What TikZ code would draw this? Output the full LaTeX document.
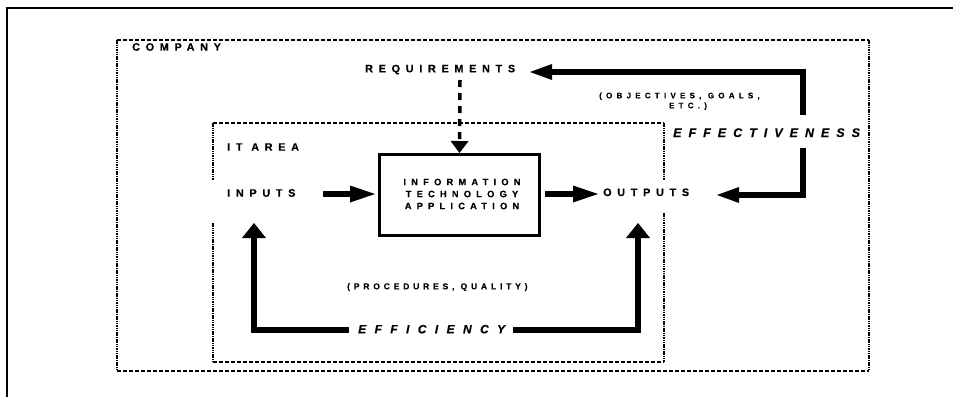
\documentclass[tikz,border=0pt]{standalone}
\usepackage{fontspec}
\setmainfont{Liberation Sans}
% letter-spaced bold families for the labels
\newfontfamily\lblA[LetterSpace=53,FakeBold=0.4]{Liberation Sans}
\newfontfamily\lblE[LetterSpace=56,FakeBold=0.4]{Liberation Sans}
\newfontfamily\lblB[LetterSpace=70,FakeBold=0.4]{Liberation Sans}
\newfontfamily\lblC[LetterSpace=45,FakeBold=0.3]{Liberation Sans}
\newfontfamily\lblF[LetterSpace=53,FakeBold=0.3]{Liberation Sans}
\newfontfamily\lblD[LetterSpace=56,FakeBold=0.3]{Liberation Sans}
\usetikzlibrary{arrows.meta}
\begin{document}
\begin{tikzpicture}[x=1pt,y=-1pt,
  lbl/.style={inner sep=0pt, font=\lblA\bfseries\fontsize{10.8}{13}\selectfont},
  effstyle/.style={inner sep=0pt, font=\lblE\bfseries\itshape\fontsize{12.5}{14}\selectfont},
  ital/.style={inner sep=0pt, font=\lblB\bfseries\itshape\fontsize{12}{14}\selectfont},
  note/.style={inner sep=0pt, font=\lblC\bfseries\fontsize{8.5}{10.5}\selectfont},
  objnote/.style={inner sep=0pt, font=\lblF\bfseries\fontsize{8}{10}\selectfont},
  boxtext/.style={inner sep=0pt, align=center, font=\lblD\bfseries\fontsize{9.3}{12}\selectfont},
  frameline/.style={line width=2pt},
  hdots/.style={line width=2.6pt, dash pattern=on 4pt off 2pt},
  vdots/.style={line width=2.8pt, dash pattern=on 1.5pt off 0.8pt},
  appbox/.style={draw, line width=3pt, minimum width=160pt, minimum height=81pt, inner sep=0pt},
  flow/.style={line width=5.5pt, -{Triangle[length=25pt,width=17pt,line width=0pt]}},
  backarrow/.style={line width=5.5pt, -{Triangle[length=22pt,width=16pt,line width=0pt]}},
  uparrow/.style={line width=5.5pt, -{Triangle[length=15pt,width=24pt,line width=0pt]}},
  reqarrow/.style={line width=3.5pt, dash pattern=on 7pt off 6pt, -{Triangle[length=12pt,width=18pt,line width=0pt]}}
]
\useasboundingbox (0,0) rectangle (953,397);

% page frame
\draw[frameline] (7,397) -- (7,8) -- (953,8);

% company region
\draw[hdots] (117,40) -- (869,40);
\draw[hdots] (117,371) -- (869,371);
\draw[vdots] (117,40) -- (117,371);
\draw[vdots] (869,40) -- (869,371);

% IT area region, open beside the inputs and outputs labels
\draw[hdots] (213,123) -- (664,123);
\draw[hdots] (213,362) -- (664,362);
\draw[vdots] (213,123) -- (213,180);
\draw[vdots] (213,223) -- (213,362);
\draw[vdots] (664,123) -- (664,180);
\draw[vdots] (664,213) -- (664,362);

% labels
\node[lbl, anchor=base west] (company) at (132,50.7) {COMPANY};
\node[lbl, anchor=base west] (req) at (365,72.3) {REQUIREMENTS};
\node[lbl, anchor=base west] (itarea) at (227,150.7) {IT AREA};
\node[lbl, anchor=base west] (inputs) at (227,196.7) {INPUTS};
\node[lbl, anchor=base west] (outputs) at (603,196) {OUTPUTS};
\node[effstyle, anchor=base west] (eff) at (673,137) {EFFECTIVENESS};
\node[objnote, anchor=base west] (obj) at (599,98.3) {(OBJECTIVES, GOALS,};
\node[objnote, anchor=base] (etc) at (688,108.3) {ETC.)};
\node[note, anchor=base west] (proc) at (347,289.3) {(PROCEDURES, QUALITY)};
\node[ital, anchor=base west] (effi) at (358,333.3) {EFFICIENCY};

% application box
\node[appbox] (app) at (459.5,195) {};
\node[boxtext] (apptxt) at (462,194) {INFORMATION\\TECHNOLOGY\\APPLICATION};

% connector end points
\coordinate (reqfoot) at (460,80);
\coordinate (inTail) at (323,194);
\coordinate (outTip) at (598,194);
\coordinate (effTop) at (803,115);
\coordinate (effBot) at (803,148);
\coordinate (reqTip) at (530,72);
\coordinate (outRet) at (717,195);
\coordinate (effiL) at (349,330);
\coordinate (effiR) at (513,330);
\coordinate (inUp) at (254,223);
\coordinate (outUp) at (638,223);

% flow through the application
\draw[reqarrow] (reqfoot) -- (app.north);
\draw[flow, shorten >=3pt] (inTail) -- (app.west |- inTail);
\draw[flow, shorten <=4pt] (app.east |- outTip) -- (outTip);

% effectiveness loop
\draw[backarrow] (effTop) |- (reqTip);
\draw[backarrow] (effBot) |- (outRet);

% efficiency loop
\draw[uparrow] (effiL) -| (inUp);
\draw[uparrow] (effiR) -| (outUp);
\end{tikzpicture}
\end{document}
